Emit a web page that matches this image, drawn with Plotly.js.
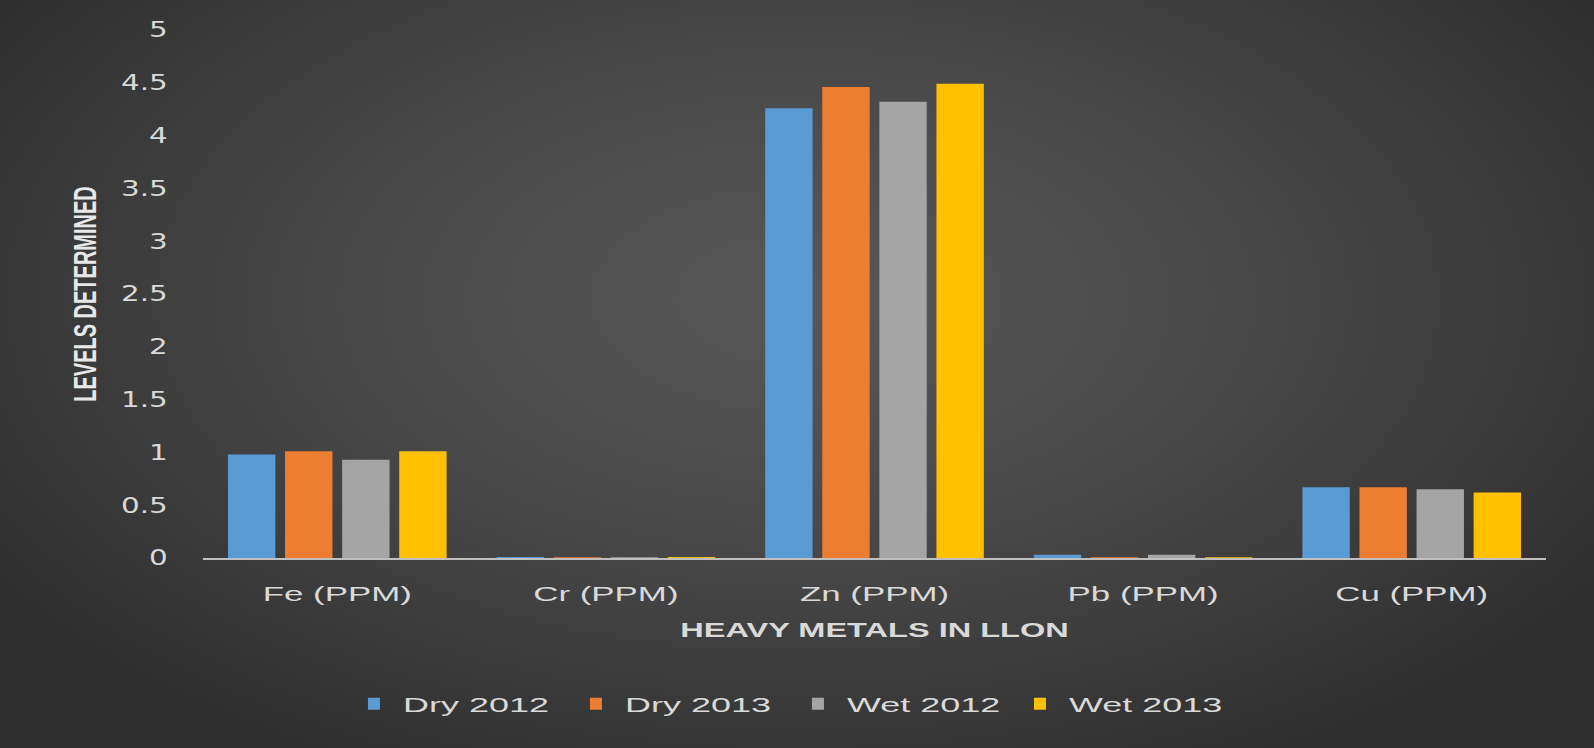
<!DOCTYPE html>
<html>
<head>
<meta charset="utf-8">
<script src="https://cdn.plot.ly/plotly-3.0.1.min.js"></script>
<style>
html,body{margin:0;padding:0;}
#chart{width:1594px;height:748px;background:radial-gradient(ellipse 60% 70% at 50% 40%, #585858 0%, #474747 50%, #363636 85%, #2f2f2f 100%);}
</style>
</head>
<body>
<div id="chart"></div>
<script>
const categories = ["Fe (PPM)", "Cr (PPM)", "Zn (PPM)", "Pb (PPM)", "Cu (PPM)"];
const seriesNames = ["Dry 2012", "Dry 2013", "Wet 2012", "Wet 2013"];
const dry2012 = [0.98, 0.01, 4.26, 0.03, 0.67];
const dry2013 = [1.01, 0.008, 4.46, 0.008, 0.67];
const wet2012 = [0.93, 0.006, 4.32, 0.03, 0.65];
const wet2013 = [1.01, 0.01, 4.49, 0.008, 0.62];
const yTicks = [0, 0.5, 1, 1.5, 2, 2.5, 3, 3.5, 4, 4.5, 5];

const colors = ["#5b9bd5", "#ed7d31", "#a5a5a5", "#ffc000"];
const values = [dry2012, dry2013, wet2012, wet2013];

const traces = values.map((v, i) => ({
  type: "bar",
  name: seriesNames[i],
  x: categories,
  y: v,
  marker: {color: colors[i], line: {width: 0}},
  hoverinfo: "x+y+name"
}));

const layout = {
  width: 1594,
  height: 748,
  paper_bgcolor: "rgba(0,0,0,0)",
  plot_bgcolor: "rgba(0,0,0,0)",
  margin: {l: 203, r: 48, t: 30, b: 190},
  barmode: "group",
  bargap: 0.15,
  bargroupgap: 0.17,
  showlegend: true,
  legend: {
    orientation: "h",
    x: 0.443, xanchor: "center",
    y: -0.276, yanchor: "middle",
    font: {family: "Liberation Sans, Arial, sans-serif", size: 20, color: "#d9d9d9"},
    entrywidth: 177,
    traceorder: "normal"
  },
  xaxis: {
    type: "category",
    showgrid: false,
    zeroline: false,
    showline: true,
    linecolor: "#bfbfbf",
    linewidth: 2,
    ticks: "outside",
    ticklen: 16,
    tickcolor: "rgba(0,0,0,0)",
    tickfont: {family: "Liberation Sans, Arial, sans-serif", size: 21, color: "#d9d9d9"},
    title: {
      text: "HEAVY METALS IN LLON",
      font: {family: "Liberation Sans, Arial, sans-serif", size: 21, color: "#d9d9d9", weight: "bold"},
      standoff: 18
    }
  },
  yaxis: {
    range: [0, 5],
    tickvals: yTicks,
    ticktext: yTicks.map(String),
    showgrid: false,
    zeroline: false,
    showline: false,
    ticks: "outside",
    ticklen: 30,
    tickcolor: "rgba(0,0,0,0)",
    tickfont: {family: "DejaVu Sans, sans-serif", size: 21, color: "#d9d9d9"},
    title: {
      text: "LEVELS DETERMINED",
      font: {family: "Liberation Sans, sans-serif", size: 20, color: "#e8e8e8", weight: "bold"},
      standoff: 36
    }
  }
};

// Widen text horizontally (on screen) to mimic the stretched look of the original.
function stretch(el, sx, sy, dx) {
  const bb = el.getBBox();
  const anchor = el.getAttribute("text-anchor") || "start";
  let cx = bb.x;
  if (anchor === "middle") cx = bb.x + bb.width / 2;
  else if (anchor === "end") cx = bb.x + bb.width;
  const cy = bb.y + bb.height / 2;
  const old = el.getAttribute("transform") || "";
  el.setAttribute("transform",
    old + " translate(" + (cx + (dx || 0)) + "," + cy + ") scale(" + sx + "," + sy + ") translate(" + (-cx) + "," + (-cy) + ")");
}

Plotly.newPlot("chart", traces, layout, {displayModeBar: false, staticPlot: true}).then(gd => {
  gd.querySelectorAll(".xtick text").forEach(t => stretch(t, 1.66, 1));
  gd.querySelectorAll(".ytick text").forEach(t => stretch(t, 1.4, 1));
  gd.querySelectorAll(".g-xtitle text").forEach(t => stretch(t, 1.55, 1));
  gd.querySelectorAll(".g-ytitle text").forEach(t => stretch(t, 1, 1.55));
  gd.querySelectorAll(".legendtext").forEach(t => stretch(t, 1.8, 1, 9));
});
</script>
</body>
</html>
